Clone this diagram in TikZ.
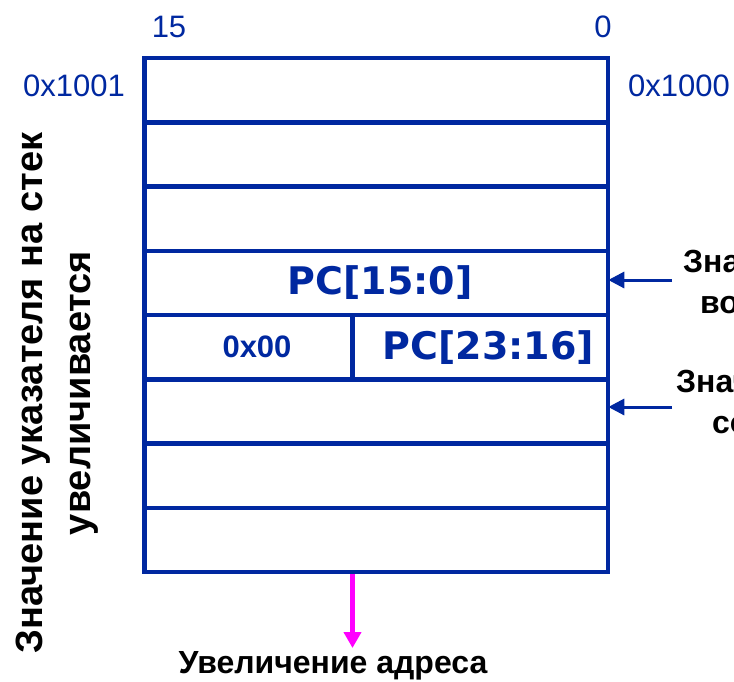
\documentclass[tikz,border=0pt]{standalone}
\usepackage{fontspec}
\setmainfont{Liberation Sans}
\newfontfamily\pcfont{DejaVu Sans}
\usetikzlibrary{arrows.meta}
\definecolor{navy}{RGB}{0,40,160}
\definecolor{mag}{RGB}{255,0,255}
\tikzset{
  cell/.style={draw=navy, line width=4.5pt, inner sep=0pt, minimum height=64.25pt, text=navy},
  pclabel/.style={font=\pcfont\bfseries\fontsize{38}{42}\selectfont},
  bytelabel/.style={font=\bfseries\fontsize{31}{36}\selectfont},
  numlabel/.style={text=navy, inner sep=0pt, font=\fontsize{31}{36}\selectfont},
  sidelabel/.style={inner sep=0pt, align=left, font=\bfseries\fontsize{32}{41}\selectfont},
  barrow/.style={draw=navy, line width=3pt, -{Triangle[length=16pt,width=16pt]}},
  marrow/.style={draw=mag, line width=5pt, -{Triangle[length=16pt,width=17pt]}}
}
\begin{document}
\begin{tikzpicture}[x=1pt,y=-1pt]
\useasboundingbox (0,0) rectangle (734,681);
\clip (0,0) rectangle (734,681);
% rows
\node[cell, minimum width=463.5pt] (r1) at (376.25,90.125) {};
\node[cell, minimum width=463.5pt] (r2) at (376.25,154.375) {};
\node[cell, minimum width=463.5pt] (r3) at (376.25,218.625) {};
\node[cell, minimum width=463.5pt, pclabel] (r4) at (376.25,282.875) {\hspace*{8pt}PC[15:0]};
\node[cell, minimum width=208pt, bytelabel] (r5a) at (248.5,347.125) {\hspace*{17pt}0x00};
\node[cell, minimum width=255.5pt, pclabel] (r5b) at (480.25,347.125) {\hspace*{16pt}PC[23:16]};
\node[cell, minimum width=463.5pt] (r6) at (376.25,411.375) {};
\node[cell, minimum width=463.5pt] (r7) at (376.25,475.625) {};
\node[cell, minimum width=463.5pt] (r8) at (376.25,539.875) {};
% bit numbers and addresses
\node[numlabel, anchor=base] (b15) at (169,37) {15};
\node[numlabel, anchor=base] (b0) at (603,37) {0};
\node[numlabel, anchor=base east] (a1001) at (125,96) {0x1001};
\node[numlabel, anchor=base west] (a1000) at (628,96) {0x1000};
% right labels and arrows
\node[sidelabel, anchor=north west] (l1) at (683,250) {Значение SP\\\hspace*{17pt}возврата};
\node[sidelabel, anchor=north west] (l2) at (676,370) {Значение SP до\\\hspace*{36pt}сохранения};
\coordinate (s1) at (672,280);
\coordinate (s2) at (672,407);
\draw[barrow, shorten >=-2pt] (s1) -- (s1 -| r4.east);
\draw[barrow, shorten >=-2pt] (s2) -- (s2 -| r6.east);
% vertical text
\node[inner sep=0pt, rotate=90, align=center, font=\bfseries\fontsize{38}{48}\selectfont] (vt) at (57,393) {Значение указателя на стек\\увеличивается};
% address arrow
\coordinate (m1) at (352.5,648);
\draw[marrow] (r8.south -| m1) -- (m1);
\node[inner sep=0pt, anchor=base, font=\bfseries\fontsize{32}{36}\selectfont] (addr) at (333,673) {Увеличение адреса};
\end{tikzpicture}
\end{document}
